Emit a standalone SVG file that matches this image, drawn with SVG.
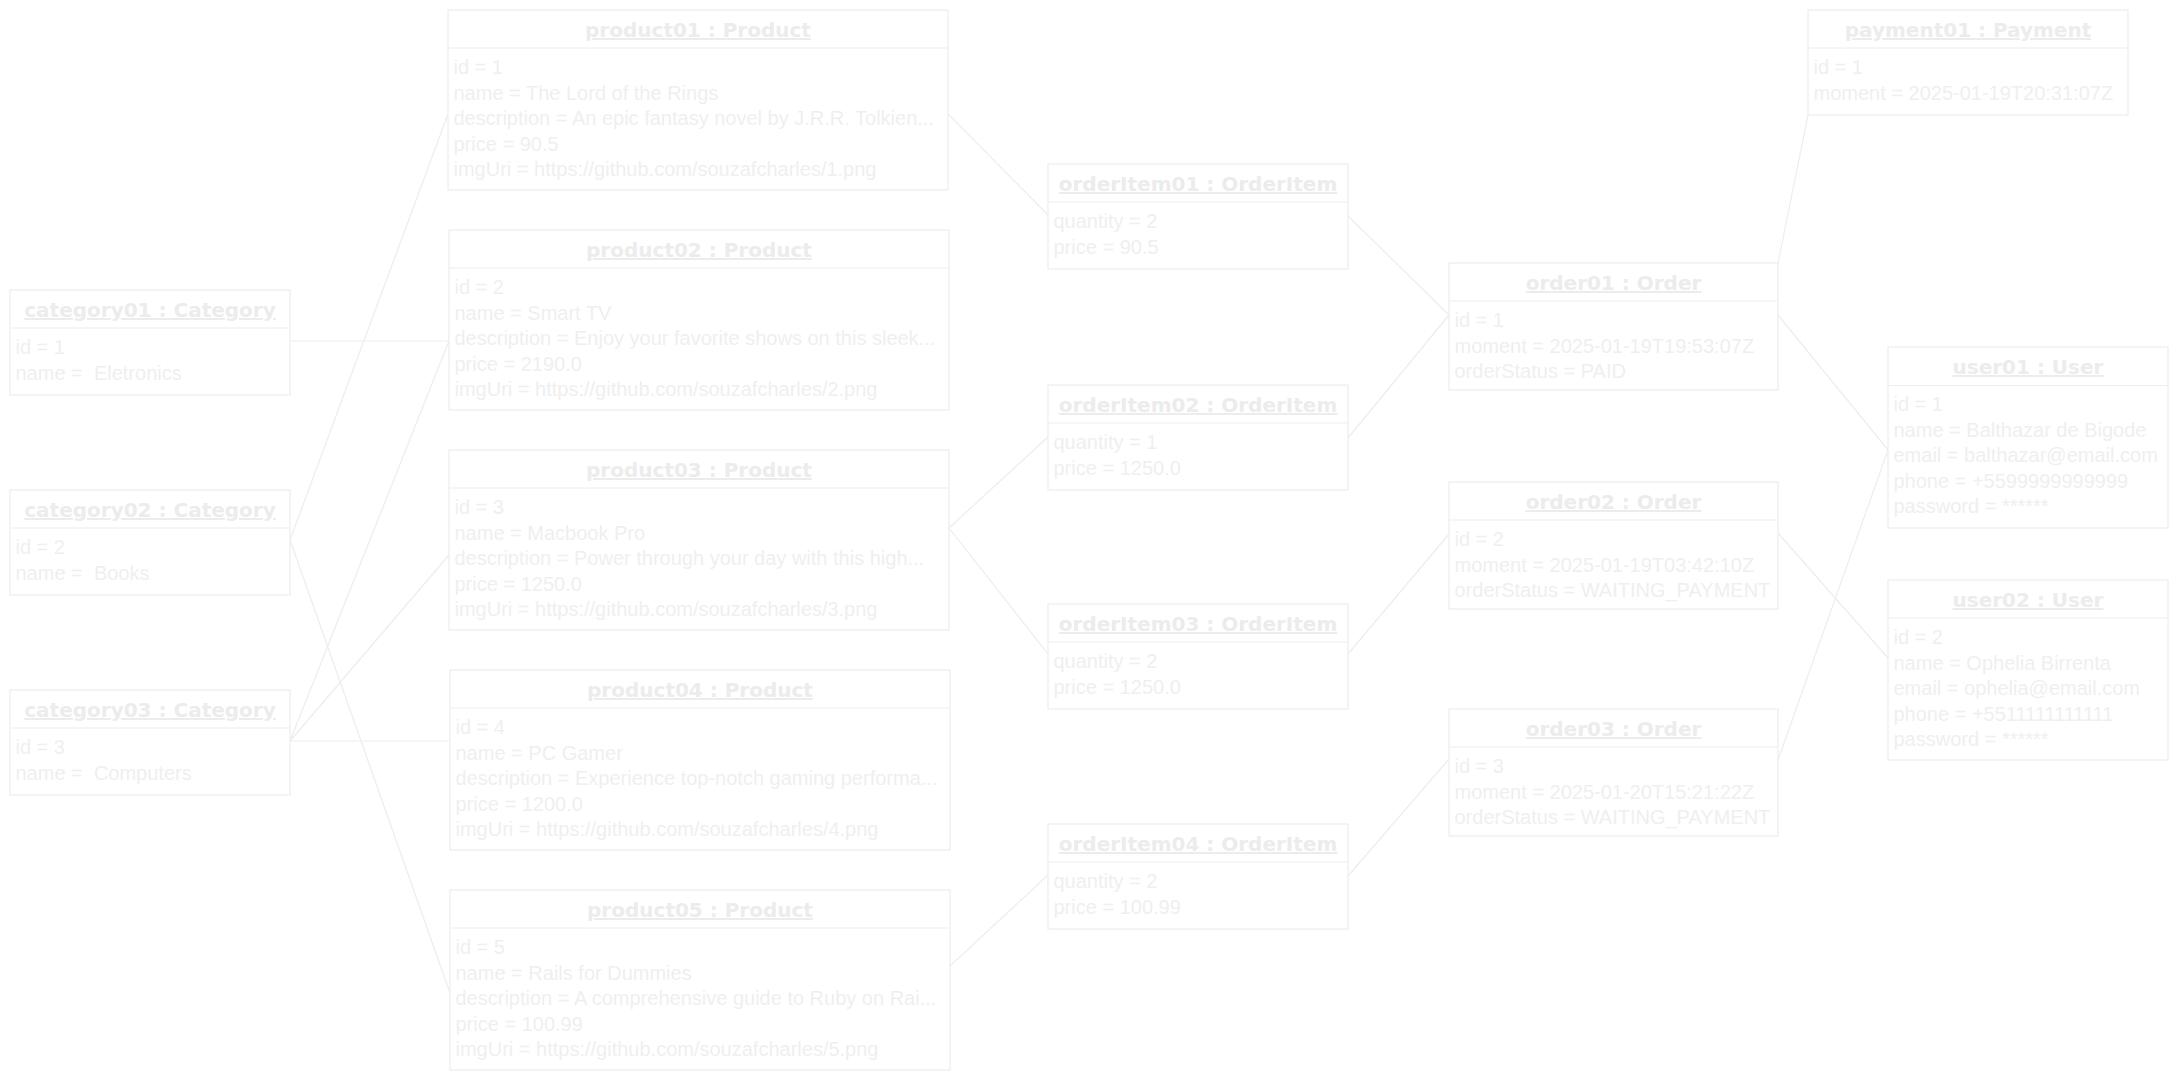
<svg xmlns="http://www.w3.org/2000/svg" width="2179" height="1081" viewBox="0 0 2179 1081">
<style>
.box{fill:#ffffff;stroke:#ededed;stroke-width:1.2}
.div{stroke:#ededed;stroke-width:1.2}
.t{font-family:"DejaVu Sans",Verdana,sans-serif;font-weight:bold;font-size:20px;fill:#ececec;text-anchor:middle;text-decoration:underline}
.a{font-family:"Liberation Sans",Arial,sans-serif;font-size:20px;fill:#efefef;white-space:pre}
.c line{stroke:#ededed;stroke-width:1.2;fill:none}
</style>
<rect x="0" y="0" width="2179" height="1081" fill="#ffffff"/>
<g class="c" id="connectors">
<line x1="448" y1="114" x2="290" y2="540"/>
<line x1="290" y1="341" x2="449" y2="341"/>
<line x1="449" y1="341" x2="290" y2="741"/>
<line x1="290" y1="741" x2="449" y2="555"/>
<line x1="290" y1="741" x2="450" y2="741"/>
<line x1="290" y1="540" x2="450" y2="993"/>
<line x1="948" y1="114" x2="1048" y2="215"/>
<line x1="949" y1="528" x2="1048" y2="437"/>
<line x1="949" y1="528" x2="1048" y2="654"/>
<line x1="950" y1="966" x2="1048" y2="875"/>
<line x1="1348" y1="216" x2="1449" y2="315"/>
<line x1="1348" y1="438" x2="1449" y2="315"/>
<line x1="1348" y1="654" x2="1449" y2="534"/>
<line x1="1348" y1="876" x2="1449" y2="759"/>
<line x1="1778" y1="263" x2="1808" y2="115"/>
<line x1="1778" y1="315" x2="1888" y2="450"/>
<line x1="1778" y1="533" x2="1888" y2="658"/>
<line x1="1778" y1="760" x2="1888" y2="450"/>
</g>
<g id="category01">
<rect class="box" x="10" y="290" width="280" height="105"/>
<line class="div" x1="10" y1="328" x2="290" y2="328"/>
<text class="t" x="150" y="317">category01 : Category</text>
<text class="a" x="15.5" y="354">id = 1</text>
<text class="a" x="15.5" y="379.6">name =  Eletronics</text>
</g>
<g id="category02">
<rect class="box" x="10" y="490" width="280" height="105"/>
<line class="div" x1="10" y1="528" x2="290" y2="528"/>
<text class="t" x="150" y="517">category02 : Category</text>
<text class="a" x="15.5" y="554">id = 2</text>
<text class="a" x="15.5" y="579.6">name =  Books</text>
</g>
<g id="category03">
<rect class="box" x="10" y="690" width="280" height="105"/>
<line class="div" x1="10" y1="728" x2="290" y2="728"/>
<text class="t" x="150" y="717">category03 : Category</text>
<text class="a" x="15.5" y="754">id = 3</text>
<text class="a" x="15.5" y="779.6">name =  Computers</text>
</g>
<g id="product01">
<rect class="box" x="448" y="10" width="500" height="180"/>
<line class="div" x1="448" y1="48" x2="948" y2="48"/>
<text class="t" x="698" y="37">product01 : Product</text>
<text class="a" x="453.5" y="74">id = 1</text>
<text class="a" x="453.5" y="99.6">name = The Lord of the Rings</text>
<text class="a" x="453.5" y="125.2">description = An epic fantasy novel by J.R.R. Tolkien...</text>
<text class="a" x="453.5" y="150.8">price = 90.5</text>
<text class="a" x="453.5" y="176.4">imgUri = https://github.com/souzafcharles/1.png</text>
</g>
<g id="product02">
<rect class="box" x="449" y="230" width="500" height="180"/>
<line class="div" x1="449" y1="268" x2="949" y2="268"/>
<text class="t" x="699" y="257">product02 : Product</text>
<text class="a" x="454.5" y="294">id = 2</text>
<text class="a" x="454.5" y="319.6">name = Smart TV</text>
<text class="a" x="454.5" y="345.2">description = Enjoy your favorite shows on this sleek...</text>
<text class="a" x="454.5" y="370.8">price = 2190.0</text>
<text class="a" x="454.5" y="396.4">imgUri = https://github.com/souzafcharles/2.png</text>
</g>
<g id="product03">
<rect class="box" x="449" y="450" width="500" height="180"/>
<line class="div" x1="449" y1="488" x2="949" y2="488"/>
<text class="t" x="699" y="477">product03 : Product</text>
<text class="a" x="454.5" y="514">id = 3</text>
<text class="a" x="454.5" y="539.6">name = Macbook Pro</text>
<text class="a" x="454.5" y="565.2">description = Power through your day with this high...</text>
<text class="a" x="454.5" y="590.8">price = 1250.0</text>
<text class="a" x="454.5" y="616.4">imgUri = https://github.com/souzafcharles/3.png</text>
</g>
<g id="product04">
<rect class="box" x="450" y="670" width="500" height="180"/>
<line class="div" x1="450" y1="708" x2="950" y2="708"/>
<text class="t" x="700" y="697">product04 : Product</text>
<text class="a" x="455.5" y="734">id = 4</text>
<text class="a" x="455.5" y="759.6">name = PC Gamer</text>
<text class="a" x="455.5" y="785.2">description = Experience top-notch gaming performa...</text>
<text class="a" x="455.5" y="810.8">price = 1200.0</text>
<text class="a" x="455.5" y="836.4">imgUri = https://github.com/souzafcharles/4.png</text>
</g>
<g id="product05">
<rect class="box" x="450" y="890" width="500" height="180"/>
<line class="div" x1="450" y1="928" x2="950" y2="928"/>
<text class="t" x="700" y="917">product05 : Product</text>
<text class="a" x="455.5" y="954">id = 5</text>
<text class="a" x="455.5" y="979.6">name = Rails for Dummies</text>
<text class="a" x="455.5" y="1005.2">description = A comprehensive guide to Ruby on Rai...</text>
<text class="a" x="455.5" y="1030.8">price = 100.99</text>
<text class="a" x="455.5" y="1056.4">imgUri = https://github.com/souzafcharles/5.png</text>
</g>
<g id="orderItem01">
<rect class="box" x="1048" y="164" width="300" height="105"/>
<line class="div" x1="1048" y1="202" x2="1348" y2="202"/>
<text class="t" x="1198" y="191">orderItem01 : OrderItem</text>
<text class="a" x="1053.5" y="228">quantity = 2</text>
<text class="a" x="1053.5" y="253.6">price = 90.5</text>
</g>
<g id="orderItem02">
<rect class="box" x="1048" y="385" width="300" height="105"/>
<line class="div" x1="1048" y1="423" x2="1348" y2="423"/>
<text class="t" x="1198" y="412">orderItem02 : OrderItem</text>
<text class="a" x="1053.5" y="449">quantity = 1</text>
<text class="a" x="1053.5" y="474.6">price = 1250.0</text>
</g>
<g id="orderItem03">
<rect class="box" x="1048" y="604" width="300" height="105"/>
<line class="div" x1="1048" y1="642" x2="1348" y2="642"/>
<text class="t" x="1198" y="631">orderItem03 : OrderItem</text>
<text class="a" x="1053.5" y="668">quantity = 2</text>
<text class="a" x="1053.5" y="693.6">price = 1250.0</text>
</g>
<g id="orderItem04">
<rect class="box" x="1048" y="824" width="300" height="105"/>
<line class="div" x1="1048" y1="862" x2="1348" y2="862"/>
<text class="t" x="1198" y="851">orderItem04 : OrderItem</text>
<text class="a" x="1053.5" y="888">quantity = 2</text>
<text class="a" x="1053.5" y="913.6">price = 100.99</text>
</g>
<g id="order01">
<rect class="box" x="1449" y="263" width="329" height="127"/>
<line class="div" x1="1449" y1="301" x2="1778" y2="301"/>
<text class="t" x="1613.5" y="290">order01 : Order</text>
<text class="a" x="1454.5" y="327">id = 1</text>
<text class="a" x="1454.5" y="352.6">moment = 2025-01-19T19:53:07Z</text>
<text class="a" x="1454.5" y="378.2">orderStatus = PAID</text>
</g>
<g id="order02">
<rect class="box" x="1449" y="482" width="329" height="127"/>
<line class="div" x1="1449" y1="520" x2="1778" y2="520"/>
<text class="t" x="1613.5" y="509">order02 : Order</text>
<text class="a" x="1454.5" y="546">id = 2</text>
<text class="a" x="1454.5" y="571.6">moment = 2025-01-19T03:42:10Z</text>
<text class="a" x="1454.5" y="597.2">orderStatus = WAITING_PAYMENT</text>
</g>
<g id="order03">
<rect class="box" x="1449" y="709" width="329" height="127"/>
<line class="div" x1="1449" y1="747" x2="1778" y2="747"/>
<text class="t" x="1613.5" y="736">order03 : Order</text>
<text class="a" x="1454.5" y="773">id = 3</text>
<text class="a" x="1454.5" y="798.6">moment = 2025-01-20T15:21:22Z</text>
<text class="a" x="1454.5" y="824.2">orderStatus = WAITING_PAYMENT</text>
</g>
<g id="payment01">
<rect class="box" x="1808" y="10" width="320" height="105"/>
<line class="div" x1="1808" y1="48" x2="2128" y2="48"/>
<text class="t" x="1968" y="37">payment01 : Payment</text>
<text class="a" x="1813.5" y="74">id = 1</text>
<text class="a" x="1813.5" y="99.6">moment = 2025-01-19T20:31:07Z</text>
</g>
<g id="user01">
<rect class="box" x="1888" y="347" width="280" height="181"/>
<line class="div" x1="1888" y1="385.5" x2="2168" y2="385.5"/>
<text class="t" x="2028" y="374">user01 : User</text>
<text class="a" x="1893.5" y="411">id = 1</text>
<text class="a" x="1893.5" y="436.6">name = Balthazar de Bigode</text>
<text class="a" x="1893.5" y="462.2">email = balthazar@email.com</text>
<text class="a" x="1893.5" y="487.8">phone = +5599999999999</text>
<text class="a" x="1893.5" y="513.4">password = ******</text>
</g>
<g id="user02">
<rect class="box" x="1888" y="580" width="280" height="180"/>
<line class="div" x1="1888" y1="618" x2="2168" y2="618"/>
<text class="t" x="2028" y="607">user02 : User</text>
<text class="a" x="1893.5" y="644">id = 2</text>
<text class="a" x="1893.5" y="669.6">name = Ophelia Birrenta</text>
<text class="a" x="1893.5" y="695.2">email = ophelia@email.com</text>
<text class="a" x="1893.5" y="720.8">phone = +5511111111111</text>
<text class="a" x="1893.5" y="746.4">password = ******</text>
</g>
</svg>
